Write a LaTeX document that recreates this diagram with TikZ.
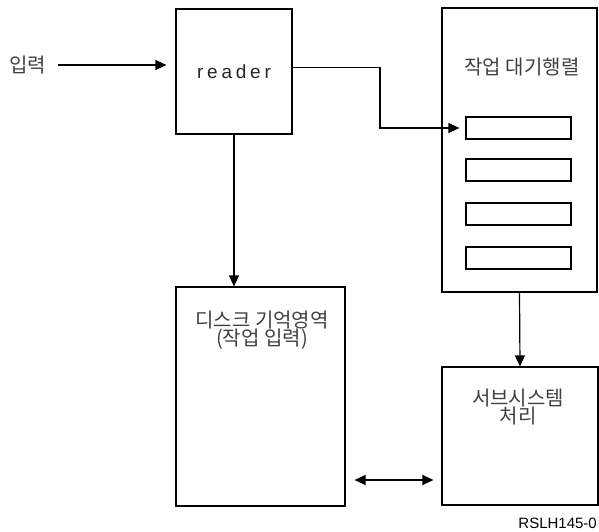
\documentclass[tikz,border=0pt]{standalone}
\usepackage{fontspec}
\setmainfont{Liberation Sans}
\newfontfamily\kr{Noto Sans CJK KR}
\newfontfamily\wide[LetterSpace=20]{Liberation Sans}
\newcommand\krtext{\kr\fontsize{20}{18.5}\selectfont\lineskiplimit=-20pt\relax}
\usetikzlibrary{arrows.meta}
\begin{document}
\begin{tikzpicture}
    [
    x=1pt,y=-1pt,
    >={Triangle[length=11pt,width=10pt]},
    box/.style={draw,line width=1.2pt,rectangle,inner sep=0pt},
    slot/.style={box,minimum width=105pt,minimum height=22pt},
    txt/.style={text=black!75,font=\krtext,align=center,inner sep=0pt},
    link/.style={line width=1.2pt,->}
    ]
    \useasboundingbox (0,0) rectangle (599,531);
    \node (input) at (27.5,65) [txt] {입력};
    \node (reader) at (234,71.5) [box,minimum width=116pt,minimum height=125pt,text=black!85,font=\wide\fontsize{19}{20}\selectfont] {reader};
    \node (queue) at (519.5,150) [box,minimum width=155pt,minimum height=284pt] {};
    \node (queuetxt) at (522,67) [txt] {작업 대기행렬};
    \foreach \y [count=\i] in {128,170,214,258}
      \node (slot\i) at (518.5,\y) [slot] {};
    \node (disk) at (260.5,396.5) [box,minimum width=169pt,minimum height=219pt] {};
    \node (disktxt) at (262,330) [txt] {디스크 기억영역\\(작업 입력)};
    \node (sub) at (520,436) [box,minimum width=156pt,minimum height=138pt] {};
    \node (subtxt) at (518,407) [txt] {서브시스템\\처리};
    \node (id) at (597,528) [anchor=base east,font=\fontsize{15}{18}\selectfont,inner sep=0pt] {RSLH145-0};
    \coordinate (bend) at (380,0);
    \coordinate (lvl) at (0,480);
    \draw [link,shorten <=12pt,shorten >=9pt] (input.east) -- (input.east -| reader.west);
    \draw [link,shorten >=6pt] ([yshift=4pt]reader.east) -| (bend |- slot1.west) -- (slot1.west);
    \draw [link] (reader.south) -- (reader.south |- disk.north);
    \draw [link] (queue.south) -- (sub.north);
    \draw [link,<->,shorten <=9pt,shorten >=8pt] (disk.east |- lvl) -- (sub.west |- lvl);
  \end{tikzpicture}
\end{document}
